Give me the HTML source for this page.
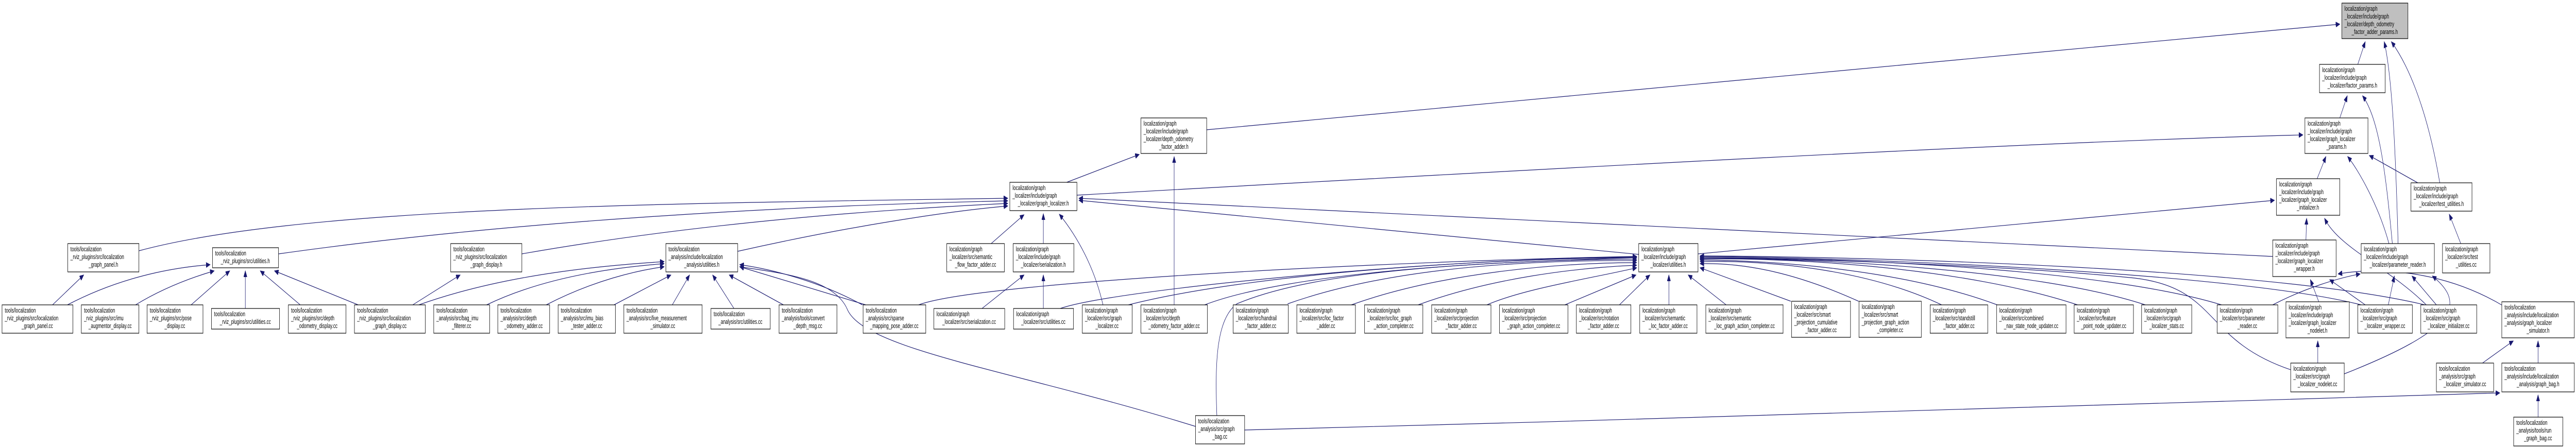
<!DOCTYPE html>
<html><head><meta charset="utf-8"><style>
html,body{margin:0;padding:0;background:#fff;width:100vw;height:100vh;overflow:hidden}
svg{display:block;width:100vw;height:100vh}
.n{fill:#fff;stroke:#000;stroke-width:1.2}
.g{fill:#bfbfbf;stroke:#000;stroke-width:1.2}
text{font-family:"Liberation Sans",sans-serif;font-size:12.5px;fill:#000}
.c{text-anchor:middle}
.e{fill:none;stroke:#191970;stroke-width:1.2;marker-end:url(#a)}
</style></head><body>
<svg viewBox="0 0 7602 868" preserveAspectRatio="none" xmlns="http://www.w3.org/2000/svg">
<defs><marker id="a" markerUnits="userSpaceOnUse" markerWidth="14" markerHeight="10" refX="12" refY="5" orient="auto"><path d="M0,0 L12,5 L0,10 Z" fill="#191970" stroke="#191970"/></marker></defs>

<path class="e" d="M3561,252 L6905,47"/>
<path class="e" d="M6958,125 L6980,81"/>
<path class="e" d="M6905,229 L6927,186"/>
<path class="e" d="M7077,473 C7070,300 7060,150 7036,81"/>
<path class="e" d="M7200,355 C7160,200 7100,120 7057,81"/>
<path class="e" d="M7060,473 C7040,330 7020,230 6972,186"/>
<path class="e" d="M7050,473 C7020,400 6960,330 6928,304"/>
<path class="e" d="M7135,355 L6992,302"/>
<path class="e" d="M3178,379 C4500,330 6000,275 6796,262"/>
<path class="e" d="M3148,354 L3362,300"/>
<path class="e" d="M3465,592 L3465,304"/>
<path class="e" d="M6838,347 L6864,304"/>
<path class="e" d="M6805,466 L6807,424"/>
<path class="e" d="M7160,592 C7050,520 6900,480 6860,424"/>
<path class="e" d="M6843,586 L6818,543"/>
<path class="e" d="M6980,592 L6875,543"/>
<path class="e" d="M7390,595 C7200,520 7000,520 6900,532"/>
<path class="e" d="M6707,592 C6800,560 6900,540 6965,532"/>
<path class="e" d="M7048,592 L7066,536"/>
<path class="e" d="M7190,592 L7118,536"/>
<path class="e" d="M6918,726 C7250,640 7280,590 7178,536"/>
<path class="e" d="M7262,473 L7228,416"/>
<path class="e" d="M6840,705 L6840,662"/>
<path class="e" d="M7326,705 L7417,662"/>
<path class="e" d="M7490,705 L7490,662"/>
<path class="e" d="M7490,810 L7490,767"/>
<path class="e" d="M3673,835 C5000,810 6500,790 7377,763"/>
<path class="e" d="M5011,493 L6712,389"/>
<path class="e" d="M6707,498 L3184,385"/>
<path class="e" d="M4836,494 L3184,389"/>
<path class="e" d="M410,487 C900,400 2000,395 2974,385"/>
<path class="e" d="M822,493 C1500,430 2300,400 2974,390"/>
<path class="e" d="M1540,493 C2000,440 2500,410 2974,395"/>
<path class="e" d="M2177,488 C2500,440 2800,410 2974,400"/>
<path class="e" d="M2925,473 L3022,417"/>
<path class="e" d="M3079,473 L3079,415"/>
<path class="e" d="M3255,592 C3230,520 3180,460 3126,416"/>
<path class="e" d="M3528,828 C3000,720 2550,680 2500,600 C2460,540 2300,530 2183,518"/>
<path class="e" d="M3591,807 C3585,700 3590,620 3650,590 C3900,520 4400,510 4830,500"/>
<path class="e" d="M6760,718 C6500,660 6550,560 6300,540 C6000,520 5500,505 5017,500"/>
<path class="e" d="M5285,585 L5017,520"/>
<path class="e" d="M5485,585 C5300,530 5150,510 5017,512"/>
<path class="e" d="M5730,592 C5500,520 5200,505 5017,508"/>
<path class="e" d="M5894,592 C5600,520 5200,505 5017,505"/>
<path class="e" d="M6131,592 C5800,520 5300,500 5017,503"/>
<path class="e" d="M6331,592 C6000,520 5300,500 5017,502"/>
<path class="e" d="M6556,592 C6200,520 5400,500 5017,500"/>
<path class="e" d="M6968,592 C6600,530 5500,500 5017,498"/>
<path class="e" d="M7156,592 C6700,520 5500,498 5017,497"/>
<path class="e" d="M4618,592 L4828,534"/>
<path class="e" d="M4779,592 L4869,534"/>
<path class="e" d="M4925,592 L4925,534"/>
<path class="e" d="M5094,592 L4982,534"/>
<path class="e" d="M4388,592 C4500,560 4700,540 4830,520"/>
<path class="e" d="M4185,592 C4400,540 4650,520 4830,515"/>
<path class="e" d="M3988,592 C4250,530 4600,510 4830,510"/>
<path class="e" d="M3800,590 C4100,520 4500,505 4830,506"/>
<path class="e" d="M3555,592 C3800,530 4400,505 4830,503"/>
<path class="e" d="M3330,592 C3700,530 4400,502 4830,500"/>
<path class="e" d="M3129,599 C3300,560 4300,500 4830,499"/>
<path class="e" d="M2711,592 C2900,545 4200,505 4830,498"/>
<path class="e" d="M155,592 L247,534"/>
<path class="e" d="M199,592 C350,540 500,520 620,514"/>
<path class="e" d="M400,592 C480,560 560,540 632,526"/>
<path class="e" d="M564,592 L678,526"/>
<path class="e" d="M724,599 L724,526"/>
<path class="e" d="M886,592 L768,526"/>
<path class="e" d="M1057,592 L810,526"/>
<path class="e" d="M1218,592 L1358,534"/>
<path class="e" d="M1236,592 C1500,530 1800,515 1960,508"/>
<path class="e" d="M1436,592 C1600,540 1800,520 1960,512"/>
<path class="e" d="M1612,592 C1750,545 1880,525 1960,518"/>
<path class="e" d="M1812,592 L1980,534"/>
<path class="e" d="M1984,592 L2035,534"/>
<path class="e" d="M2166,599 L2103,534"/>
<path class="e" d="M2312,592 L2152,534"/>
<path class="e" d="M2555,592 L2183,518"/>
<path class="e" d="M2545,592 C2400,540 2250,520 2183,514"/>
<path class="e" d="M2898,599 L3022,534"/>
<path class="e" d="M3079,599 L3079,534"/>

<g><rect class="g" x="6911" y="6" width="195" height="69"/><text x="6919" y="21">localization/graph</text><text x="6919" y="36">_localizer/include/graph</text><text x="6919" y="51">_localizer/depth_odometry</text><text class="c" x="7008" y="66">_factor_adder_params.h</text></g>
<g><rect class="n" x="6845" y="125" width="194" height="55"/><text x="6853" y="140">localization/graph</text><text x="6853" y="155">_localizer/include/graph</text><text class="c" x="6942" y="170">_localizer/factor_params.h</text></g>
<g><rect class="n" x="6802" y="229" width="186" height="69"/><text x="6810" y="244">localization/graph</text><text x="6810" y="259">_localizer/include/graph</text><text x="6810" y="274">_localizer/graph_localizer</text><text class="c" x="6895" y="289">_params.h</text></g>
<g><rect class="n" x="3367" y="229" width="194" height="69"/><text x="3375" y="244">localization/graph</text><text x="3375" y="259">_localizer/include/graph</text><text x="3375" y="274">_localizer/depth_odometry</text><text class="c" x="3464" y="289">_factor_adder.h</text></g>
<g><rect class="n" x="2980" y="354" width="198" height="55"/><text x="2988" y="369">localization/graph</text><text x="2988" y="384">_localizer/include/graph</text><text class="c" x="3079" y="399">_localizer/graph_localizer.h</text></g>
<g><rect class="n" x="6718" y="347" width="187" height="71"/><text x="6726" y="362">localization/graph</text><text x="6726" y="377">_localizer/include/graph</text><text x="6726" y="392">_localizer/graph_localizer</text><text class="c" x="6811" y="407">_initializer.h</text></g>
<g><rect class="n" x="7115" y="355" width="180" height="55"/><text x="7123" y="370">localization/graph</text><text x="7123" y="385">_localizer/include/graph</text><text class="c" x="7205" y="400">_localizer/test_utilities.h</text></g>

<g><rect class="n" x="200" y="473" width="210" height="55"/><text x="208" y="488">tools/localization</text><text x="208" y="503">_rviz_plugins/src/localization</text><text class="c" x="305" y="518">_graph_panel.h</text></g>
<g><rect class="n" x="627" y="481" width="195" height="39"/><text x="635" y="496">tools/localization</text><text class="c" x="724" y="511">_rviz_plugins/src/utilities.h</text></g>
<g><rect class="n" x="1330" y="473" width="210" height="55"/><text x="1338" y="488">tools/localization</text><text x="1338" y="503">_rviz_plugins/src/localization</text><text class="c" x="1435" y="518">_graph_display.h</text></g>
<g><rect class="n" x="1965" y="473" width="212" height="55"/><text x="1973" y="488">tools/localization</text><text x="1973" y="503">_analysis/include/localization</text><text class="c" x="2071" y="518">_analysis/utilities.h</text></g>
<g><rect class="n" x="2794" y="473" width="170" height="55"/><text x="2802" y="488">localization/graph</text><text x="2802" y="503">_localizer/src/semantic</text><text class="c" x="2879" y="518">_flow_factor_adder.cc</text></g>
<g><rect class="n" x="2990" y="473" width="179" height="55"/><text x="2998" y="488">localization/graph</text><text x="2998" y="503">_localizer/include/graph</text><text class="c" x="3079" y="518">_localizer/serialization.h</text></g>
<g><rect class="n" x="4836" y="473" width="175" height="55"/><text x="4844" y="488">localization/graph</text><text x="4844" y="503">_localizer/include/graph</text><text class="c" x="4923" y="518">_localizer/utilities.h</text></g>
<g><rect class="n" x="6707" y="466" width="187" height="71"/><text x="6715" y="481">localization/graph</text><text x="6715" y="496">_localizer/include/graph</text><text x="6715" y="511">_localizer/graph_localizer</text><text class="c" x="6800" y="526">_wrapper.h</text></g>
<g><rect class="n" x="6968" y="473" width="216" height="57"/><text x="6976" y="488">localization/graph</text><text x="6976" y="503">_localizer/include/graph</text><text class="c" x="7076" y="518">_localizer/parameter_reader.h</text></g>
<g><rect class="n" x="7208" y="473" width="140" height="57"/><text x="7216" y="488">localization/graph</text><text x="7216" y="503">_localizer/src/test</text><text class="c" x="7278" y="518">_utilities.cc</text></g>

<g><rect class="n" x="6" y="592" width="209" height="55"/><text x="14" y="607">tools/localization</text><text x="14" y="622">_rviz_plugins/src/localization</text><text class="c" x="110" y="637">_graph_panel.cc</text></g>
<g><rect class="n" x="240" y="592" width="170" height="55"/><text x="248" y="607">tools/localization</text><text x="248" y="622">_rviz_plugins/src/imu</text><text class="c" x="325" y="637">_augmentor_display.cc</text></g>
<g><rect class="n" x="434" y="592" width="165" height="55"/><text x="442" y="607">tools/localization</text><text x="442" y="622">_rviz_plugins/src/pose</text><text class="c" x="516" y="637">_display.cc</text></g>
<g><rect class="n" x="624" y="599" width="201" height="40"/><text x="632" y="614">tools/localization</text><text class="c" x="724" y="629">_rviz_plugins/src/utilities.cc</text></g>
<g><rect class="n" x="851" y="592" width="170" height="55"/><text x="859" y="607">tools/localization</text><text x="859" y="622">_rviz_plugins/src/depth</text><text class="c" x="936" y="637">_odometry_display.cc</text></g>
<g><rect class="n" x="1046" y="592" width="209" height="55"/><text x="1054" y="607">tools/localization</text><text x="1054" y="622">_rviz_plugins/src/localization</text><text class="c" x="1150" y="637">_graph_display.cc</text></g>
<g><rect class="n" x="1280" y="592" width="165" height="55"/><text x="1288" y="607">tools/localization</text><text x="1288" y="622">_analysis/src/bag_imu</text><text class="c" x="1362" y="637">_filterer.cc</text></g>
<g><rect class="n" x="1469" y="592" width="153" height="55"/><text x="1477" y="607">tools/localization</text><text x="1477" y="622">_analysis/src/depth</text><text class="c" x="1545" y="637">_odometry_adder.cc</text></g>
<g><rect class="n" x="1647" y="592" width="169" height="55"/><text x="1655" y="607">tools/localization</text><text x="1655" y="622">_analysis/src/imu_bias</text><text class="c" x="1731" y="637">_tester_adder.cc</text></g>
<g><rect class="n" x="1841" y="592" width="231" height="55"/><text x="1849" y="607">tools/localization</text><text x="1849" y="622">_analysis/src/live_measurement</text><text class="c" x="1956" y="637">_simulator.cc</text></g>
<g><rect class="n" x="2098" y="599" width="175" height="40"/><text x="2106" y="614">tools/localization</text><text class="c" x="2185" y="629">_analysis/src/utilities.cc</text></g>
<g><rect class="n" x="2299" y="592" width="171" height="55"/><text x="2307" y="607">tools/localization</text><text x="2307" y="622">_analysis/tools/convert</text><text class="c" x="2384" y="637">_depth_msg.cc</text></g>
<g><rect class="n" x="2547" y="592" width="185" height="55"/><text x="2555" y="607">tools/localization</text><text x="2555" y="622">_analysis/src/sparse</text><text class="c" x="2639" y="637">_mapping_pose_adder.cc</text></g>
<g><rect class="n" x="2756" y="599" width="209" height="40"/><text x="2764" y="614">localization/graph</text><text class="c" x="2860" y="629">_localizer/src/serialization.cc</text></g>
<g><rect class="n" x="2991" y="599" width="177" height="40"/><text x="2999" y="614">localization/graph</text><text class="c" x="3079" y="629">_localizer/src/utilities.cc</text></g>
<g><rect class="n" x="3194" y="592" width="147" height="55"/><text x="3202" y="607">localization/graph</text><text x="3202" y="622">_localizer/src/graph</text><text class="c" x="3267" y="637">_localizer.cc</text></g>
<g><rect class="n" x="3367" y="592" width="196" height="55"/><text x="3375" y="607">localization/graph</text><text x="3375" y="622">_localizer/src/depth</text><text class="c" x="3465" y="637">_odometry_factor_adder.cc</text></g>
<g><rect class="n" x="3639" y="592" width="163" height="55"/><text x="3647" y="607">localization/graph</text><text x="3647" y="622">_localizer/src/handrail</text><text class="c" x="3720" y="637">_factor_adder.cc</text></g>
<g><rect class="n" x="3827" y="592" width="173" height="55"/><text x="3835" y="607">localization/graph</text><text x="3835" y="622">_localizer/src/loc_factor</text><text class="c" x="3913" y="637">_adder.cc</text></g>
<g><rect class="n" x="4027" y="592" width="172" height="55"/><text x="4035" y="607">localization/graph</text><text x="4035" y="622">_localizer/src/loc_graph</text><text class="c" x="4113" y="637">_action_completer.cc</text></g>
<g><rect class="n" x="4225" y="592" width="175" height="55"/><text x="4233" y="607">localization/graph</text><text x="4233" y="622">_localizer/src/projection</text><text class="c" x="4312" y="637">_factor_adder.cc</text></g>
<g><rect class="n" x="4425" y="592" width="202" height="55"/><text x="4433" y="607">localization/graph</text><text x="4433" y="622">_localizer/src/projection</text><text class="c" x="4526" y="637">_graph_action_completer.cc</text></g>
<g><rect class="n" x="4652" y="592" width="161" height="55"/><text x="4660" y="607">localization/graph</text><text x="4660" y="622">_localizer/src/rotation</text><text class="c" x="4732" y="637">_factor_adder.cc</text></g>
<g><rect class="n" x="4839" y="592" width="169" height="55"/><text x="4847" y="607">localization/graph</text><text x="4847" y="622">_localizer/src/semantic</text><text class="c" x="4923" y="637">_loc_factor_adder.cc</text></g>
<g><rect class="n" x="5034" y="592" width="228" height="55"/><text x="5042" y="607">localization/graph</text><text x="5042" y="622">_localizer/src/semantic</text><text class="c" x="5148" y="637">_loc_graph_action_completer.cc</text></g>
<g><rect class="n" x="5287" y="585" width="174" height="70"/><text x="5295" y="600">localization/graph</text><text x="5295" y="615">_localizer/src/smart</text><text x="5295" y="630">_projection_cumulative</text><text class="c" x="5374" y="645">_factor_adder.cc</text></g>
<g><rect class="n" x="5486" y="585" width="184" height="70"/><text x="5494" y="600">localization/graph</text><text x="5494" y="615">_localizer/src/smart</text><text x="5494" y="630">_projection_graph_action</text><text class="c" x="5578" y="645">_completer.cc</text></g>
<g><rect class="n" x="5696" y="592" width="170" height="55"/><text x="5704" y="607">localization/graph</text><text x="5704" y="622">_localizer/src/standstill</text><text class="c" x="5781" y="637">_factor_adder.cc</text></g>
<g><rect class="n" x="5892" y="592" width="205" height="55"/><text x="5900" y="607">localization/graph</text><text x="5900" y="622">_localizer/src/combined</text><text class="c" x="5994" y="637">_nav_state_node_updater.cc</text></g>
<g><rect class="n" x="6121" y="592" width="175" height="55"/><text x="6129" y="607">localization/graph</text><text x="6129" y="622">_localizer/src/feature</text><text class="c" x="6208" y="637">_point_node_updater.cc</text></g>
<g><rect class="n" x="6320" y="592" width="148" height="55"/><text x="6328" y="607">localization/graph</text><text x="6328" y="622">_localizer/src/graph</text><text class="c" x="6394" y="637">_localizer_stats.cc</text></g>
<g><rect class="n" x="6543" y="592" width="179" height="55"/><text x="6551" y="607">localization/graph</text><text x="6551" y="622">_localizer/src/parameter</text><text class="c" x="6632" y="637">_reader.cc</text></g>
<g><rect class="n" x="6746" y="586" width="187" height="70"/><text x="6754" y="601">localization/graph</text><text x="6754" y="616">_localizer/include/graph</text><text x="6754" y="631">_localizer/graph_localizer</text><text class="c" x="6839" y="646">_nodelet.h</text></g>
<g><rect class="n" x="6958" y="592" width="161" height="55"/><text x="6966" y="607">localization/graph</text><text x="6966" y="622">_localizer/src/graph</text><text class="c" x="7038" y="637">_localizer_wrapper.cc</text></g>
<g><rect class="n" x="7144" y="592" width="165" height="55"/><text x="7152" y="607">localization/graph</text><text x="7152" y="622">_localizer/src/graph</text><text class="c" x="7226" y="637">_localizer_initializer.cc</text></g>
<g><rect class="n" x="7383" y="586" width="214" height="70"/><text x="7391" y="601">tools/localization</text><text x="7391" y="616">_analysis/include/localization</text><text x="7391" y="631">_analysis/graph_localizer</text><text class="c" x="7490" y="646">_simulator.h</text></g>

<g><rect class="n" x="6760" y="705" width="158" height="56"/><text x="6768" y="720">localization/graph</text><text x="6768" y="735">_localizer/src/graph</text><text class="c" x="6839" y="750">_localizer_nodelet.cc</text></g>
<g><rect class="n" x="7190" y="705" width="169" height="56"/><text x="7198" y="720">tools/localization</text><text x="7198" y="735">_analysis/src/graph</text><text class="c" x="7274" y="750">_localizer_simulator.cc</text></g>
<g><rect class="n" x="7383" y="705" width="214" height="56"/><text x="7391" y="720">tools/localization</text><text x="7391" y="735">_analysis/include/localization</text><text class="c" x="7490" y="750">_analysis/graph_bag.h</text></g>
<g><rect class="n" x="7418" y="810" width="145" height="56"/><text x="7426" y="825">tools/localization</text><text x="7426" y="840">_analysis/tools/run</text><text class="c" x="7490" y="855">_graph_bag.cc</text></g>
<g><rect class="n" x="3528" y="807" width="145" height="55"/><text x="3536" y="822">tools/localization</text><text x="3536" y="837">_analysis/src/graph</text><text class="c" x="3600" y="852">_bag.cc</text></g>
</svg>
</body></html>
